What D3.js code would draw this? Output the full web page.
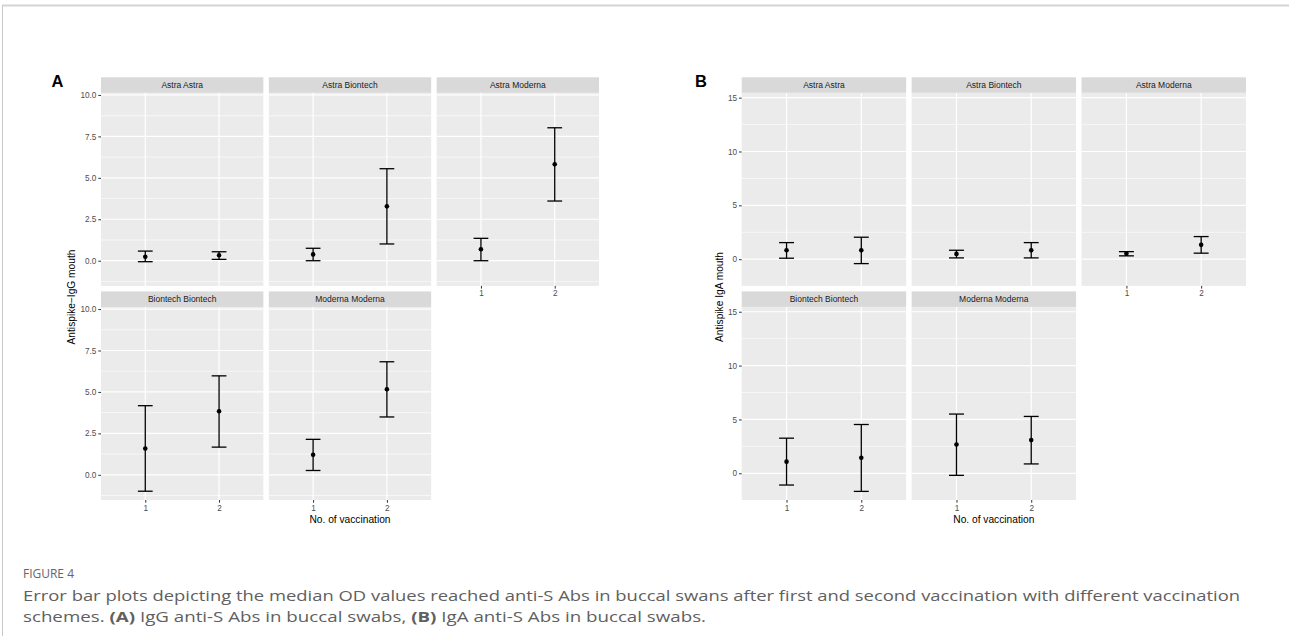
<!DOCTYPE html>
<html>
<head>
<meta charset="utf-8">
<script src="https://cdn.jsdelivr.net/npm/d3@7"></script>
<style>
  body { margin: 0; background: #fff; }
  svg { display: block; }
</style>
</head>
<body>
<div id="fig"></div>
<script>
// facets in facet_wrap order (3 columns)
const facets = ['Astra Astra', 'Astra Biontech', 'Astra Moderna', 'Biontech Biontech', 'Moderna Moderna'];
const doses = ['1', '2'];

// A: IgG, per facet [dose1, dose2]
const iggMedian = [[0.24, 0.33], [0.38, 3.28], [0.69, 5.82], [1.59, 3.83], [1.21, 5.16]];
const iggLower = [[-0.06, 0.08], [0.0, 1.01], [0.0, 3.6], [-0.99, 1.67], [0.26, 3.49]];
const iggUpper = [[0.58, 0.54], [0.75, 5.55], [1.35, 8.02], [4.17, 5.97], [2.14, 6.82]];

// B: IgA
const igaMedian = [[0.83, 0.83], [0.49, 0.83], [0.52, 1.33], [1.08, 1.45], [2.67, 3.08]];
const igaLower = [[0.09, -0.41], [0.12, 0.12], [0.31, 0.56], [-1.09, -1.68], [-0.19, 0.87]];
const igaUpper = [[1.54, 2.04], [0.83, 1.54], [0.7, 2.1], [3.26, 4.53], [5.5, 5.28]];

const iggTicks = [0, 2.5, 5, 7.5, 10];
const iggMinor = [-1.25, 1.25, 3.75, 6.25, 8.75];
const igaTicks = [0, 5, 10, 15];
const igaMinor = [-2.5, 2.5, 7.5, 12.5];

const width = 1289;
const height = 636;

const svg = d3.select('#fig').append('svg')
  .attr('width', width)
  .attr('height', height)
  .style('font-family', '"Liberation Sans", Arial, Helvetica, sans-serif');

// page frame
svg.append('line').attr('x1', 2).attr('x2', width).attr('y1', 5.5).attr('y2', 5.5)
  .attr('stroke', '#d4d4d4').attr('stroke-width', 2);
svg.append('line').attr('x1', 2.5).attr('x2', 2.5).attr('y1', 5).attr('y2', height)
  .attr('stroke', '#c8c8c8').attr('stroke-width', 1);

const plotTop = 77.3, plotBottom = 500, stripH = 15.5, gap = 5.5;
const panelH = (plotBottom - plotTop - gap - 2 * stripH) / 2;

function drawPlot(cfg) {
  const g = svg.append('g');
  const panelW = (cfg.right - cfg.left - 2 * gap) / 3;

  // discrete x positions 1, 2 with ggplot's 0.6 expansion
  const xs = d3.scaleLinear().domain([0.4, 2.6]).range([0, panelW]);

  // panel letter
  g.append('text')
    .attr('x', cfg.letterX).attr('y', 86.7)
    .attr('font-size', 16.5).attr('font-weight', 'bold')
    .attr('fill', '#000')
    .text(cfg.letter);

  facets.forEach((name, i) => {
    const col = i % 3, row = Math.floor(i / 3);
    const px = cfg.left + col * (panelW + gap);
    const sy = plotTop + row * (stripH + panelH + gap);
    const py = sy + stripH;

    const y = d3.scaleLinear().domain(cfg.yDomain).range([panelH, 0]);

    const p = g.append('g').attr('transform', `translate(${px},${py})`);

    // strip
    g.append('rect').attr('x', px).attr('y', sy).attr('width', panelW).attr('height', stripH)
      .attr('fill', '#d9d9d9');
    g.append('text')
      .attr('x', px + panelW / 2).attr('y', sy + stripH / 2)
      .attr('dy', '0.35em')
      .attr('text-anchor', 'middle')
      .attr('font-size', 8.5)
      .attr('fill', '#1a1a1a')
      .text(name);

    // panel background
    p.append('rect').attr('width', panelW).attr('height', panelH).attr('fill', '#ebebeb');

    // minor grid
    p.selectAll('.minor')
      .data(cfg.minor.filter((v) => v >= cfg.yDomain[0] && v <= cfg.yDomain[1]))
      .enter().append('line')
      .attr('x1', 0).attr('x2', panelW)
      .attr('y1', (d) => y(d)).attr('y2', (d) => y(d))
      .attr('stroke', '#fff').attr('stroke-width', 0.6);

    // major grid
    p.selectAll('.major')
      .data(cfg.ticks)
      .enter().append('line')
      .attr('x1', 0).attr('x2', panelW)
      .attr('y1', (d) => y(d)).attr('y2', (d) => y(d))
      .attr('stroke', '#fff').attr('stroke-width', 1.2);

    p.selectAll('.vgrid')
      .data(doses)
      .enter().append('line')
      .attr('x1', (d) => xs(+d)).attr('x2', (d) => xs(+d))
      .attr('y1', 0).attr('y2', panelH)
      .attr('stroke', '#fff').attr('stroke-width', 1.2);

    // error bars
    const pts = doses.map((d, j) => ({
      dose: +d,
      med: cfg.median[i][j],
      lo: cfg.lower[i][j],
      hi: cfg.upper[i][j],
    }));

    const eb = p.selectAll('.eb').data(pts).enter().append('g');
    eb.append('line')
      .attr('x1', (d) => xs(d.dose)).attr('x2', (d) => xs(d.dose))
      .attr('y1', (d) => y(d.lo)).attr('y2', (d) => y(d.hi))
      .attr('stroke', '#000').attr('stroke-width', 1.3);
    eb.append('line')
      .attr('x1', (d) => xs(d.dose - 0.1)).attr('x2', (d) => xs(d.dose + 0.1))
      .attr('y1', (d) => y(d.hi)).attr('y2', (d) => y(d.hi))
      .attr('stroke', '#000').attr('stroke-width', 1.3);
    eb.append('line')
      .attr('x1', (d) => xs(d.dose - 0.1)).attr('x2', (d) => xs(d.dose + 0.1))
      .attr('y1', (d) => y(d.lo)).attr('y2', (d) => y(d.lo))
      .attr('stroke', '#000').attr('stroke-width', 1.3);
    eb.append('circle')
      .attr('cx', (d) => xs(d.dose)).attr('cy', (d) => y(d.med))
      .attr('r', 2.3).attr('fill', '#000');

    // y axis on first column
    if (col === 0) {
      const ax = p.append('g')
        .call(d3.axisLeft(y).tickValues(cfg.ticks).tickSize(2.7).tickPadding(2)
          .tickFormat(cfg.fmt));
      ax.select('.domain').remove();
      ax.selectAll('line').attr('stroke', '#333');
      ax.selectAll('text').attr('font-size', 8.2).attr('fill', '#4d4d4d')
        .attr('font-family', '"Liberation Sans", Arial, sans-serif');
    }

    // x axis on bottom panel of each column
    if (row === 1 || col === 2) {
      const ax = p.append('g').attr('transform', `translate(0,${panelH})`)
        .call(d3.axisBottom(xs).tickValues(doses.map(Number)).tickSize(2.7).tickPadding(2)
          .tickFormat(d3.format('d')));
      ax.select('.domain').remove();
      ax.selectAll('line').attr('stroke', '#333');
      ax.selectAll('text').attr('font-size', 8.2).attr('fill', '#4d4d4d')
        .attr('font-family', '"Liberation Sans", Arial, sans-serif');
    }
  });

  // axis titles
  g.append('text')
    .attr('x', (cfg.left + cfg.right) / 2).attr('y', 522.8)
    .attr('text-anchor', 'middle')
    .attr('font-size', 10.2).attr('fill', '#000')
    .text('No. of vaccination');

  g.append('text')
    .attr('transform', `translate(${cfg.titleX},297) rotate(-90)`)
    .attr('text-anchor', 'middle')
    .attr('dy', '0.35em')
    .attr('font-size', 10.2).attr('fill', '#000')
    .text(cfg.yTitle);
}

drawPlot({
  letter: 'A', letterX: 51.5,
  left: 101, right: 599, titleX: 71,
  yDomain: [-1.52, 10.13], ticks: iggTicks, minor: iggMinor,
  fmt: d3.format('.1f'),
  median: iggMedian, lower: iggLower, upper: iggUpper,
  yTitle: 'Antispike\u2212IgG mouth',
});

drawPlot({
  letter: 'B', letterX: 695,
  left: 741.7, right: 1246, titleX: 719,
  yDomain: [-2.48, 15.45], ticks: igaTicks, minor: igaMinor,
  fmt: d3.format('d'),
  median: igaMedian, lower: igaLower, upper: igaUpper,
  yTitle: 'Antispike IgA mouth',
});

// caption
const cap = svg.append('g').style('font-family', '"Open Sans", "Noto Sans", sans-serif');
cap.append('text')
  .attr('x', 23).attr('y', 578)
  .attr('font-size', 12.5).attr('fill', '#666')
  .attr('textLength', 51).attr('lengthAdjust', 'spacingAndGlyphs')
  .text('FIGURE 4');

cap.append('text')
  .attr('x', 23).attr('y', 601)
  .attr('font-size', 15).attr('fill', '#606060')
  .attr('textLength', 1217).attr('lengthAdjust', 'spacingAndGlyphs')
  .text('Error bar plots depicting the median OD values reached anti-S Abs in buccal swans after first and second vaccination with different vaccination');

const l2 = cap.append('text')
  .attr('x', 23).attr('y', 622)
  .attr('font-size', 15).attr('fill', '#606060')
  .attr('textLength', 683).attr('lengthAdjust', 'spacingAndGlyphs');
l2.append('tspan').text('schemes. ');
l2.append('tspan').attr('font-weight', 'bold').text('(A)');
l2.append('tspan').text(' IgG anti-S Abs in buccal swabs, ');
l2.append('tspan').attr('font-weight', 'bold').text('(B)');
l2.append('tspan').text(' IgA anti-S Abs in buccal swabs.');
</script>
</body>
</html>
